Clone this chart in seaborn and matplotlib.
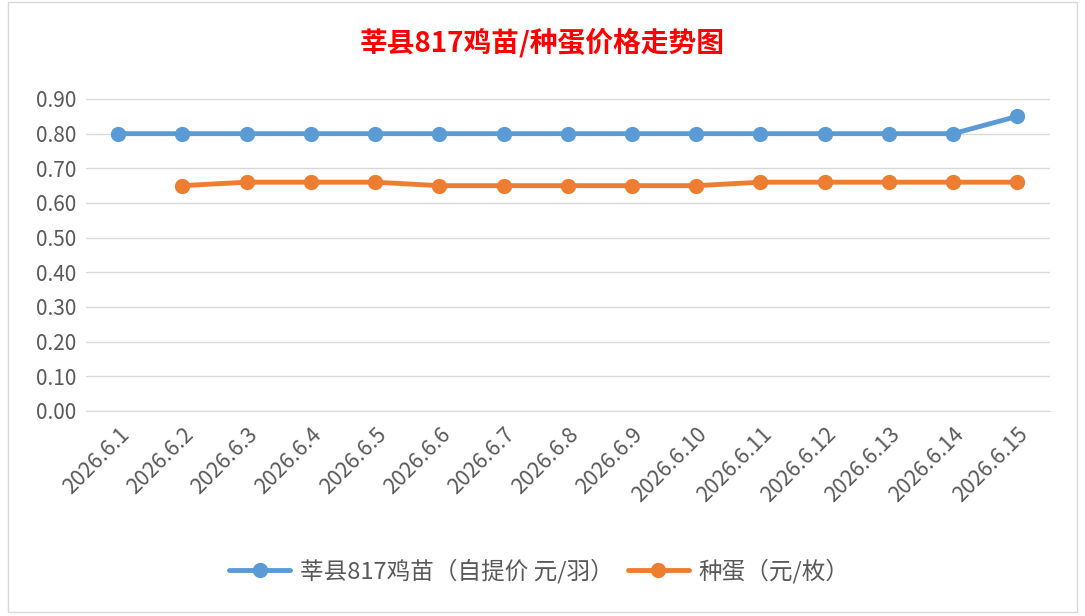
import pandas as pd
import numpy as np
import matplotlib
matplotlib.use("Agg")
import matplotlib.pyplot as plt
import seaborn as sns
from matplotlib.lines import Line2D
from matplotlib.patches import Rectangle

sns.set_style("white")
plt.rcParams['font.family'] = ['Noto Sans CJK SC', 'DejaVu Sans']

dates = ["2026.6.%d" % d for d in range(1, 16)]
chick_price = [0.80, 0.80, 0.80, 0.80, 0.80, 0.80, 0.80, 0.80, 0.80, 0.80,
               0.80, 0.80, 0.80, 0.80, 0.85]
egg_price = [np.nan, 0.65, 0.66, 0.66, 0.66, 0.65, 0.65, 0.65, 0.65, 0.65,
             0.66, 0.66, 0.66, 0.66, 0.66]
series_names = ["莘县817鸡苗（自提价 元/羽）", "种蛋（元/枚）"]
colors = ["#5B9BD5", "#ED7D31"]

df = pd.DataFrame({"日期": dates, series_names[0]: chick_price, series_names[1]: egg_price})
long_df = df.melt(id_vars="日期", var_name="系列", value_name="价格").dropna()

fig = plt.figure(figsize=(10.85, 6.16), dpi=100)
ax = fig.add_axes([0.0793, 0.3328, 0.888, 0.5065])

sns.lineplot(
    data=long_df, x="日期", y="价格", hue="系列",
    palette=colors, hue_order=series_names,
    marker="o", markersize=11, markeredgewidth=0,
    linewidth=3.5, ax=ax, legend=False, sort=False
)

ax.set_xlim(-0.5, len(dates) - 0.5)
ax.set_ylim(0, 0.9)
ax.set_yticks(np.arange(0, 0.91, 0.1))
ax.set_yticklabels(["%.2f" % v for v in np.arange(0, 0.91, 0.1)], fontsize=15, color="#595959")
ax.set_xticks(range(len(dates)))
ax.set_xticklabels(dates, rotation=45, ha="right", rotation_mode="anchor",
                   fontsize=15.5, color="#595959")
ax.tick_params(axis="y", length=0, pad=7)
ax.tick_params(axis="x", length=0, pad=9)
ax.yaxis.grid(True, color="#D9D9D9", linewidth=1)
ax.set_axisbelow(True)
for side in ["top", "right", "left"]:
    ax.spines[side].set_visible(False)
ax.spines["bottom"].set_color("#D9D9D9")
ax.set_xlabel("")
ax.set_ylabel("")

fig.text(0.5, 0.93, "莘县817鸡苗/种蛋价格走势图", ha="center", va="center",
         fontsize=20, fontweight="bold", color="#FF0000")

handles = [Line2D([0], [0], color=c, linewidth=3.5, marker="o", markersize=11,
                  markeredgewidth=0) for c in colors]
fig.legend(handles, series_names, loc="center", bbox_to_anchor=(0.497, 0.073),
           ncol=2, frameon=False, fontsize=17, handlelength=2.6,
           columnspacing=0.6, handletextpad=0.4, labelcolor="#595959")

fig.patches.append(Rectangle((0.007, 0.006), 0.986, 0.99, transform=fig.transFigure,
                             fill=False, edgecolor="#D9D9D9", linewidth=1))

fig.savefig("out.png", dpi=100)
